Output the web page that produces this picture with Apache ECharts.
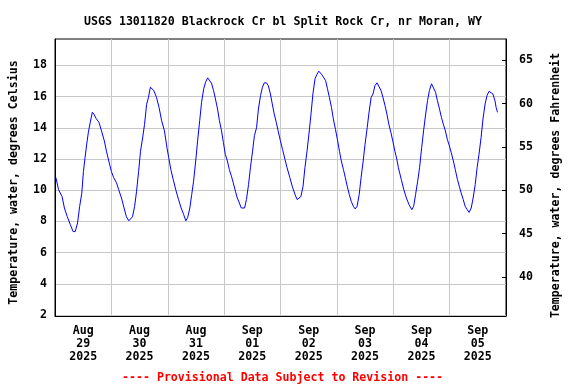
<!DOCTYPE html>
<html>
<head>
<meta charset="utf-8">
<script src="https://cdn.jsdelivr.net/npm/echarts@6/dist/echarts.min.js"></script>
<style>
html,body{margin:0;padding:0;background:#fff;}
#chart{width:576px;height:384px;}
</style>
</head>
<body>
<div id="chart"></div>
<script>
// Hours since 2025-08-29 00:00 (local)
var hours = [0.4,1.5,3.0,4.0,5.2,6.5,7.7,8.6,9.6,10.5,11.4,12.1,12.8,13.5,14.2,15.0,15.9,16.7,17.4,18.1,18.7,19.8,21.0,21.9,22.9,
24.0,25.0,26.2,27.1,28.3,29.4,30.4,31.4,32.2,33.0,33.9,34.7,35.6,36.4,37.3,38.1,39.0,39.8,40.6,41.2,42.0,43.2,44.3,45.4,46.6,47.7,
48.4,49.3,50.3,51.5,52.6,53.7,54.8,55.7,56.5,57.4,58.2,59.0,59.9,60.7,61.6,62.4,63.3,64.1,65.0,65.8,66.6,67.5,68.3,69.2,70.0,70.9,71.7,
72.5,73.4,74.2,75.1,75.9,76.8,77.6,78.5,79.3,80.0,80.7,81.5,82.4,83.2,84.1,84.9,85.8,86.6,87.5,88.3,89.1,90.0,90.8,91.7,92.5,93.3,94.2,95.0,95.9,
96.9,97.9,98.8,100.0,101.1,102.2,103.1,103.9,104.7,105.6,106.4,107.3,108.1,109.0,109.8,110.7,111.5,112.3,112.9,113.5,114.3,115.2,116.0,116.8,117.7,118.5,119.4,
120.2,121.1,121.9,122.8,123.6,124.4,125.3,126.1,127.0,127.8,128.6,129.5,130.3,131.2,132.0,132.9,133.7,134.6,135.4,136.2,137.1,137.9,138.8,139.6,140.5,141.3,142.1,143.0,143.8,
144.7,145.5,146.2,147.4,148.5,149.6,150.7,151.9,152.7,153.5,154.4,155.2,156.1,156.9,157.8,158.6,159.4,160.3,161.1,162.0,162.8,163.7,164.5,165.3,166.2,167.0,167.9,
168.7,169.6,170.4,171.3,172.1,172.9,173.8,174.6,175.5,176.3,177.2,178.0,178.9,179.7,180.5,181.4,182.2,183.1,183.9,184.8,185.6,186.4,187.3,187.8,188.4];

// Water temperature, degrees Celsius
var tempC = [10.8,10.04,9.6,8.86,8.32,7.8,7.35,7.35,7.9,8.97,9.8,11.2,12.1,12.95,13.7,14.35,15.0,14.84,14.62,14.56,14.35,13.8,13.16,12.5,11.87,
11.2,10.8,10.47,10.04,9.5,8.86,8.3,8.04,8.04,8.3,8.97,9.9,11.2,12.5,13.35,14.2,15.5,15.96,16.6,16.65,16.4,15.96,15.3,14.45,13.8,12.7,
12.1,11.33,10.7,9.98,9.4,8.86,8.43,8.04,8.26,8.86,9.72,10.58,11.87,13.16,14.45,15.63,16.5,16.92,17.2,17.14,16.86,16.39,15.85,15.2,14.45,13.8,13.05,
12.3,11.87,11.33,10.9,10.47,9.94,9.5,9.18,8.86,8.75,8.86,9.4,10.37,11.44,12.5,13.5,14.0,15.2,16.06,16.6,16.88,16.88,16.7,16.17,15.53,14.9,14.35,13.8,13.2,
12.6,11.98,11.44,10.8,10.2,9.72,9.4,9.33,9.6,10.26,11.44,12.5,13.6,14.9,16.17,17.14,17.42,17.63,17.72,17.42,17.5,17.03,16.5,15.96,15.3,14.56,13.9,
13.27,12.5,11.87,11.33,10.8,10.26,9.72,9.29,8.97,8.8,8.97,9.72,10.8,11.87,12.95,14.0,15.0,15.96,16.17,16.7,16.88,16.82,16.39,15.96,15.42,14.88,14.24,13.7,13.16,
12.5,12.0,11.44,10.7,10.04,9.5,9.08,8.75,8.97,9.72,10.58,11.44,12.73,13.8,14.88,15.74,16.39,16.82,16.7,16.28,15.74,15.2,14.67,14.24,13.8,13.27,12.84,
12.4,11.87,11.33,10.7,10.26,9.83,9.4,8.97,8.75,8.58,8.86,9.5,10.37,11.44,12.3,13.38,14.56,15.53,16.06,16.34,16.32,16.17,15.74,15.3,14.99];

// X tick labels (centred at noon of each day)
var dayLabels = ['Aug\n29\n2025','Aug\n30\n2025','Aug\n31\n2025','Sep\n01\n2025','Sep\n02\n2025','Sep\n03\n2025','Sep\n04\n2025','Sep\n05\n2025'];
var celsiusTicks = [2,4,6,8,10,12,14,16,18];
var fahrenheitTicks = [40,45,50,55,60,65];

var titleText = 'USGS 13011820 Blackrock Cr bl Split Rock Cr, nr Moran, WY';
var footerText = '---- Provisional Data Subject to Revision ----';

var cMin = 1.94, cMax = 19.69;
var fMin = cMin * 9 / 5 + 32, fMax = cMax * 9 / 5 + 32;

var labelNoons = dayLabels.map(function (_, i) { return 12 + 24 * i; });
var seriesData = hours.map(function (h, i) { return [h, tempC[i]]; });

var FONT = 'DejaVu Sans Mono';
var FS = 11.6;
var chart = echarts.init(document.getElementById('chart'), null, {renderer: 'canvas'});
chart.setOption({
  animation: false,
  backgroundColor: '#fff',
  title: [
    {text: titleText, left: 79, top: 11,
     textStyle: {fontFamily: FONT, fontSize: FS, fontWeight: 'bold', color: '#000'}},
    {text: footerText, left: 117, top: 367,
     textStyle: {fontFamily: FONT, fontSize: FS, fontWeight: 'bold', color: '#ff0000'}}
  ],
  grid: {left: 51, right: 70, top: 39, bottom: 68, show: true, borderColor: '#000', borderWidth: 1, backgroundColor: 'transparent'},
  xAxis: {
    type: 'value', min: 0, max: 192, interval: 24,
    axisLine: {show: true, lineStyle: {color: '#000'}},
    axisTick: {show: false},
    splitLine: {show: true, lineStyle: {color: '#c8c8c8', width: 1}},
    axisLabel: {
      customValues: labelNoons,
      margin: 8,
      fontFamily: FONT, fontSize: FS, fontWeight: 'bold', color: '#000', lineHeight: 13,
      formatter: function (v) { var i = Math.round((v - 12) / 24); return dayLabels[i] || ''; }
    }
  },
  yAxis: [
    {
      type: 'value', min: cMin, max: cMax, position: 'left',
      name: 'Temperature, water, degrees Celsius', nameLocation: 'middle', nameGap: 35, nameRotate: 90,
      nameTextStyle: {fontFamily: FONT, fontSize: FS, fontWeight: 'bold', color: '#000', padding: [0, 10, 0, 0]},
      axisLine: {show: true, lineStyle: {color: '#000'}},
      axisTick: {show: false, customValues: celsiusTicks},
      splitLine: {show: true, lineStyle: {color: '#c8c8c8', width: 1}},
      axisLabel: {customValues: celsiusTicks, margin: 8, fontFamily: FONT, fontSize: FS, fontWeight: 'bold', color: '#000'}
    },
    {
      type: 'value', min: fMin, max: fMax, position: 'right',
      name: 'Temperature, water, degrees Fahrenheit', nameLocation: 'middle', nameGap: 44, nameRotate: 90,
      nameTextStyle: {fontFamily: FONT, fontSize: FS, fontWeight: 'bold', color: '#000', padding: [0, 16, 0, 0]},
      axisLine: {show: true, lineStyle: {color: '#000'}},
      axisTick: {show: true, inside: true, length: 4, customValues: fahrenheitTicks, lineStyle: {color: '#000'}},
      splitLine: {show: false},
      axisLabel: {customValues: fahrenheitTicks, margin: 13, fontFamily: FONT, fontSize: FS, fontWeight: 'bold', color: '#000'}
    }
  ],
  series: [{
    type: 'line', yAxisIndex: 0, data: seriesData, showSymbol: false, smooth: false,
    lineStyle: {color: '#0000ff', width: 1}, itemStyle: {color: '#0000ff'}
  }]
});
</script>
</body>
</html>
